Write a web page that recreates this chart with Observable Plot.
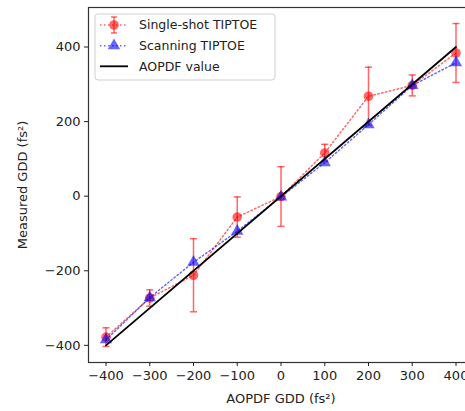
<!DOCTYPE html>
<html><head><meta charset="utf-8">
<script src="https://cdn.jsdelivr.net/npm/d3@7"></script>
<script src="https://cdn.jsdelivr.net/npm/@observablehq/plot@0.6"></script>
<style>body{margin:0;overflow:hidden;background:#fff} svg{max-width:none !important;}</style>
</head><body><div id="chart"></div>
<script>
const gdd = [-400, -300, -200, -100, 0, 100, 200, 300, 400];
const singleShot = [-378, -273, -212, -56, -1, 116, 268, 297, 384];
const singleErr = [25, 22, 98, 54, 80, 23, 78, 28, 79];
const scanning = [-385, -272, -177, -94, -2, 90, 192, 297, 358];
const aopdf = [-400, 400];
const aopdfX = [-400, 400];
const xTicks = [-400, -300, -200, -100, 0, 100, 200, 300, 400];
const yTicks = [-400, -200, 0, 200, 400];
const legendLabels = ["Single-shot TIPTOE", "Scanning TIPTOE", "AOPDF value"];

const rows = gdd.map((x, i) => ({x, ss: singleShot[i], lo: singleShot[i] - singleErr[i], hi: singleShot[i] + singleErr[i], sc: scanning[i]}));
const line = aopdfX.map((x, i) => ({x, y: aopdf[i]}));
const cap = {draw(ctx, size) { const w = Math.sqrt(size); ctx.moveTo(-w, 0); ctx.lineTo(w, 0); }};
const RED = "rgba(255,0,0,0.6)", BLUE = "rgba(0,0,255,0.6)";
const DOT = "1.5,2.5";

const svg = Plot.plot({
  width: 476, height: 411,
  marginLeft: 88, marginRight: 3, marginTop: 7, marginBottom: 49,
  style: {fontFamily: "DejaVu Sans", fontSize: "13px", color: "#222", background: "#fff", maxWidth: "none"},
  x: {domain: [-440, 440]},
  y: {domain: [-446, 506]},
  marks: [
    Plot.frame({stroke: "#333", strokeWidth: 1.2}),
    Plot.axisX({ticks: xTicks, tickSize: 4, tickPadding: 4, label: "AOPDF GDD (fs²)", labelAnchor: "center", labelArrow: "none", labelOffset: 40, fontSize: 13}),
    Plot.axisY({ticks: yTicks, tickSize: 4, tickPadding: 4, label: "Measured GDD (fs²)", labelAnchor: "center", labelArrow: "none", labelOffset: 71, fontSize: 13}),
    Plot.ruleX(rows, {x: "x", y1: "lo", y2: "hi", stroke: RED, strokeWidth: 1.5}),
    Plot.dot(rows, {x: "x", y: "lo", symbol: cap, r: 2, stroke: RED, strokeWidth: 1.5}),
    Plot.dot(rows, {x: "x", y: "hi", symbol: cap, r: 2, stroke: RED, strokeWidth: 1.5}),
    Plot.line(rows, {x: "x", y: "ss", stroke: RED, strokeWidth: 1.5, strokeDasharray: DOT}),
    Plot.dot(rows, {x: "x", y: "ss", r: 4.8, fill: RED, stroke: "none"}),
    Plot.line(rows, {x: "x", y: "sc", stroke: BLUE, strokeWidth: 1.5, strokeDasharray: DOT}),
    Plot.dot(rows, {x: "x", y: "sc", symbol: "triangle", r: 4.6, fill: BLUE, stroke: "none"}),
    Plot.line(line, {x: "x", y: "y", stroke: "black", strokeWidth: 1.8})
  ]
});

// legend inside the axes
const g = d3.select(svg).append("g").attr("font-family", "DejaVu Sans").attr("font-size", 12.5).attr("fill", "#222").attr("text-anchor", "start");
g.append("rect").attr("x", 95).attr("y", 14).attr("width", 180).attr("height", 66).attr("rx", 3)
  .attr("fill", "rgba(255,255,255,0.8)").attr("stroke", "#d0d0d0");
const rowsY = [25, 45.7, 66.3];
g.append("line").attr("x1", 100).attr("x2", 128).attr("y1", rowsY[0]).attr("y2", rowsY[0]).attr("stroke", RED).attr("stroke-width", 1.5).attr("stroke-dasharray", DOT);
g.append("line").attr("x1", 114).attr("x2", 114).attr("y1", rowsY[0] - 8).attr("y2", rowsY[0] + 8).attr("stroke", RED).attr("stroke-width", 1.5);
g.append("line").attr("x1", 111).attr("x2", 117).attr("y1", rowsY[0] - 8).attr("y2", rowsY[0] - 8).attr("stroke", RED).attr("stroke-width", 1.5);
g.append("line").attr("x1", 111).attr("x2", 117).attr("y1", rowsY[0] + 8).attr("y2", rowsY[0] + 8).attr("stroke", RED).attr("stroke-width", 1.5);
g.append("circle").attr("cx", 114).attr("cy", rowsY[0]).attr("r", 4.8).attr("fill", RED);
g.append("line").attr("x1", 100).attr("x2", 128).attr("y1", rowsY[1]).attr("y2", rowsY[1]).attr("stroke", BLUE).attr("stroke-width", 1.5).attr("stroke-dasharray", DOT);
g.append("path").attr("transform", `translate(114,${rowsY[1]})`).attr("d", d3.symbol(d3.symbolTriangle, 4.6 * 4.6 * Math.PI)()).attr("fill", BLUE);
g.append("line").attr("x1", 100).attr("x2", 128).attr("y1", rowsY[2]).attr("y2", rowsY[2]).attr("stroke", "black").attr("stroke-width", 1.8);
legendLabels.forEach((t, i) => g.append("text").attr("x", 139).attr("y", rowsY[i]).attr("dy", "0.35em").text(t));

document.getElementById("chart").appendChild(svg);
</script></body></html>
